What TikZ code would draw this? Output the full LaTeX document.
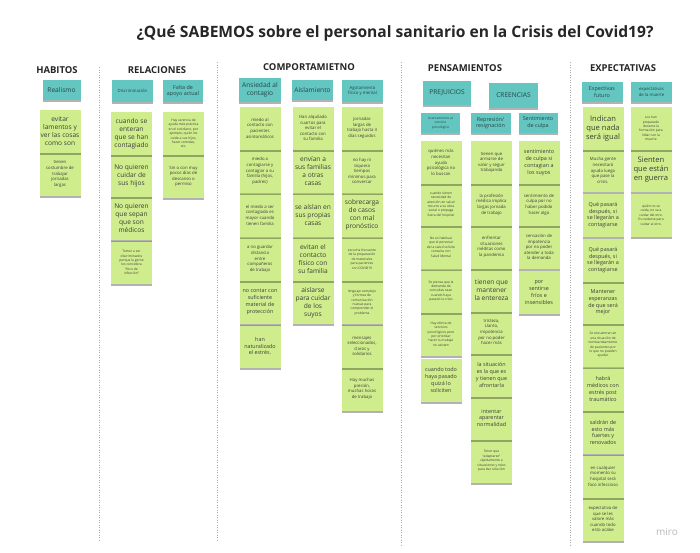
\documentclass[tikz,border=0pt]{standalone}
\usepackage{fontspec}
\setmainfont{Open Sans}
\usetikzlibrary{shadows}
\definecolor{stickygreen}{RGB}{208,237,142}
\definecolor{stickyteal}{RGB}{99,198,192}
\definecolor{notetext}{RGB}{60,60,55}
\definecolor{hdrtext}{RGB}{40,70,70}
\tikzset{
  shd/.style={drop shadow={shadow xshift=0pt,shadow yshift=-2pt,opacity=.3,fill=black}},
  note/.style={shd,fill=stickygreen,minimum width=41pt,minimum height=43pt,inner sep=0.5pt,align=center,text=notetext},
  hdr/.style={shd,fill=stickyteal,minimum width=40pt,minimum height=20pt,inner sep=0.5pt,align=center,text=hdrtext},
  fX/.style={font=\fontsize{7.6}{9}\selectfont},
  fA/.style={font=\fontsize{6.6}{8}\selectfont},
  fB/.style={font=\fontsize{5.4}{6.8}\selectfont},
  fC/.style={font=\fontsize{4.3}{5.6}\selectfont},
  fD/.style={font=\fontsize{3.3}{4.4}\selectfont},
  sect/.style={font=\fontsize{9.5}{11}\selectfont\bfseries,text=black!85},
  titlestyle/.style={font=\fontsize{15.6}{18}\selectfont\bfseries,text=black!85},
  sep/.style={draw=gray!65,line width=0.7pt,dash pattern=on 1.2pt off 1.3pt},
}
\begin{document}
\begin{tikzpicture}[x=1pt,y=-1pt]
\useasboundingbox[fill=white] (0,0) rectangle (700,552);

\node[titlestyle] (title) at (395,33) {¿Qué SABEMOS sobre el personal sanitario en la Crisis del Covid19?};

% separators
\coordinate (s1t) at (99,67);  \coordinate (s1b) at (99,540);
\coordinate (s2t) at (217,62); \coordinate (s2b) at (217,540);
\coordinate (s3t) at (401,62); \coordinate (s3b) at (401,545);
\coordinate (s4t) at (570,62); \coordinate (s4b) at (570,545);
\draw[sep] (s1t) -- (s1b);
\draw[sep] (s2t) -- (s2b);
\draw[sep] (s3t) -- (s3b);
\draw[sep] (s4t) -- (s4b);

% section headings
\node[sect] (habitos) at (57,70) {HABITOS};
\node[sect] (relaciones) at (157,70) {RELACIONES};
\node[sect] (comport) at (309,67) {COMPORTAMIETNO};
\node[sect] (pensam) at (465,68) {PENSAMIENTOS};
\node[sect] (expect) at (623,68) {EXPECTATIVAS};

% ---------------- HABITOS
\node[hdr,fA,minimum width=38pt] (realismo) at (61.5,90) {Realismo};
\node[note,fC] (ha2) at (60,174) {tienen\\costumbre de\\trabajar\\jornadas\\largas};
\node[note,fA] (ha1) at (60,131) {evitar\\lamentos y\\ver las cosas\\como son};

% ---------------- RELACIONES
\node[hdr,fC,minimum width=41pt,minimum height=22pt] (discrim) at (132.5,91) {Discriminación};
\node[hdr,fB,minimum height=22pt] (falta) at (183,91) {Falta de\\apoyo actual};
\node[note,fD] (re4) at (131.5,262.5) {Temor a ser\\discriminados\\porque la gente\\los considera\\``foco de\\infección''};
\node[note,fA] (re3) at (131.5,218.5) {No quieren\\que sepan\\que son\\médicos};
\node[note,fA] (re2) at (131.5,175.5) {No quieren\\cuidar de\\sus hijos};
\node[note,fA] (re1) at (131.5,133.5) {cuando se\\enteran\\que se han\\contagiado};
\node[note,fC] (rf2) at (183.5,176.5) {Sin o con muy\\pocos días de\\descanso o\\permiso};
\node[note,fD] (rf1) at (183.5,133.5) {Hay carencia de\\ayuda más práctica\\en el cotidiano, por\\ejemplo, quién les\\cuide a sus hijos,\\hacer comidas,\\etc.};

% ---------------- COMPORTAMIENTO
\node[hdr,fA,minimum width=42pt,minimum height=24pt] (ansiedad) at (260,90) {Ansiedad al\\contagio};
\node[hdr,fA,minimum width=41pt] (aisla) at (312.5,90) {Aislamiento};
\node[hdr,fC,minimum width=41pt,minimum height=22pt] (agota) at (362.5,91) {Agotamiento\\físico y mental};

\node[note,fB] (ca6) at (260,346) {han\\naturalizado\\el estrés.};
\node[note,fB] (ca5) at (260,302) {no contar con\\suficiente\\material de\\protección};
\node[note,fC] (ca4) at (260,259) {a no guardar\\distancia\\entre\\compañeros\\de trabajo};
\node[note,fC] (ca3) at (260,215) {el miedo a ser\\contagiado es\\mayor cuando\\tienen familia};
\node[note,fC] (ca2) at (260,171) {miedo a\\contagiarse y\\contagiar a su\\familia (hijos,\\padres)};
\node[note,fC] (ca1) at (260,128) {miedo al\\contacto con\\pacientes\\asintomáticos};

\node[note,fA] (cb5) at (313,302.5) {aislarse\\para cuidar\\de los\\suyos};
\node[note,fA] (cb4) at (313,259) {evitan el\\contacto\\físico con\\su familia};
\node[note,fA] (cb3) at (313,215) {se aíslan en\\sus propias\\casas};
\node[note,fA] (cb2) at (313,171) {envían a\\sus familias\\a otras\\casas};
\node[note,fC] (cb1) at (313,128) {Han alquilado\\cuartos para\\evitar el\\contacto con\\su familia};

\node[note,fC] (cc7) at (362,389) {Hay muchas\\presión,\\muchas horas\\de trabajo};
\node[note,fC] (cc6) at (362,346) {mensajes\\seleccionados,\\claros y\\solidarios};
\node[note,fD] (cc5) at (362,302.5) {lenguaje complejo\\y formas de\\comunicación\\nuevas para\\comprender el\\problema};
\node[note,fD] (cc4) at (362,259) {escucha frecuente\\de la preparación\\de materiales\\para pacientes\\con COVID19};
\node[note,fA] (cc3) at (362,215) {sobrecarga\\de casos\\con mal\\pronóstico};
\node[note,fC] (cc2) at (362,171) {no hay ni\\siquiera\\tiempos\\mínimos para\\conversar};
\node[note,fC] (cc1) at (362,128) {jornadas\\largas de\\trabajo hasta 3\\días seguidos};

% ---------------- PENSAMIENTOS
\node[hdr,fA,minimum width=48pt,minimum height=24pt] (prejuicios) at (447,93) {PREJUICIOS};
\node[hdr,fA,minimum width=49pt,minimum height=25pt] (creencias) at (513.5,95.5) {CREENCIAS};
\node[hdr,fD,minimum width=39pt] (acerca) at (440.5,123) {Acercamiento al\\servicio\\psicológico};
\node[hdr,fB,minimum width=40pt] (repres) at (490.5,123) {Represión/\\resignación};
\node[hdr,fB,minimum width=39pt] (sentim) at (538,123) {Sentimiento\\de culpa};

\node[note,fB] (pa6) at (441,380) {cuando todo\\haya pasado\\quizá lo\\soliciten};
\node[note,fD] (pa5) at (441,334) {Hay oferta de\\servicios\\psicológicos pero\\por priorizar\\hacer su trabajo\\no asisten};
\node[note,fD] (pa4) at (441,291) {Se piensa que la\\demanda de\\consultas sean\\cuando haya\\pasado la crisis};
\node[note,fD] (pa3) at (441,247) {No es habitual\\que el personal\\de la salud solicite\\consulta con\\Salud Mental};
\node[note,fD] (pa2) at (441,204.5) {cuando tienen\\necesidad de\\atención en salud\\recurre a su obra\\social o prepaga\\fuera del hospital};
\node[note,fC] (pa1) at (441,162.5) {quiénes más\\necesitan\\ayuda\\psicológica no\\lo buscan};

\node[note,fD] (pb8) at (491.5,461) {Tener que\\``adaptarse''\\rápidamente a\\situaciones y roles\\para dar solución};
\node[note,fB] (pb7) at (491.5,418) {intentar\\aparentar\\normalidad};
\node[note,fB] (pb6) at (491.5,375) {la situación\\es la que es\\y tienen que\\afrontarla};
\node[note,fC] (pb5) at (491.5,332) {tristeza,\\Llanto,\\impotencia\\por no poder\\hacer más};
\node[note,fA] (pb4) at (491.5,290) {tienen que\\mantener\\la entereza};
\node[note,fC] (pb3) at (491.5,247) {enfrentar\\situaciones\\inéditas como\\la pandemia};
\node[note,fC] (pb2) at (491.5,204.5) {la profesión\\médica implica\\largas jornada\\de trabajo};
\node[note,fC] (pb1) at (491.5,162.5) {tienen que\\armarse de\\valor y seguir\\trabajando};

\node[note,fB] (pc4) at (539,292.5) {por\\sentirse\\fríos e\\insensibles};
\node[note,fC] (pc3) at (539,247) {sensación de\\impotencia\\por no poder\\atender a toda\\la demanda};
\node[note,fC] (pc2) at (539,204.5) {sentimiento de\\culpa por no\\haber podido\\hacer algo};
\node[note,fB] (pc1) at (539,162.5) {sentimiento\\de culpa si\\contagian a\\los suyos};

% ---------------- EXPECTATIVAS
\node[hdr,fB,minimum width=41pt] (espfut) at (602,92) {Espectivas\\futuro};
\node[hdr,fC,minimum width=41pt] (espmue) at (651.5,92) {expectativas\\de la muerte};

\node[note,fC] (ea10) at (603,519) {expectativa de\\que se les\\valore más\\cuando todo\\esto acabe};
\node[note,fC] (ea9) at (603,476) {en cualquier\\momento su\\hospital será\\foco infeccioso};
\node[note,fB] (ea8) at (603,432.5) {saldrán de\\esto más\\fuertes y\\renovados};
\node[note,fB] (ea7) at (603,389) {habrá\\médicos con\\estrés post\\traumático};
\node[note,fD] (ea6) at (603,345) {Se encuentran en\\una situación de\\bombardeamiento\\de pacientes por\\lo que no pueden\\ayudar};
\node[note,fB] (ea5) at (603,302.5) {Mantener\\esperanzas\\de que será\\mejor};
\node[note,fB] (ea4) at (603,260) {Qué pasará\\después, si\\se llegarán a\\contagiarse};
\node[note,fB] (ea3) at (603,215) {Qué pasará\\después, si\\se llegarán a\\contagiarse};
\node[note,fC] (ea2) at (603,170.5) {Mucha gente\\necesitará\\ayuda luego\\que pase la\\crisis.};
\node[note,fX] (ea1) at (603,128.5) {Indican\\que nada\\será igual};

\node[note,fD] (eb3) at (651,215) {quién no se\\cuida, no va a\\cuidar del otro.\\Es cuidarse para\\cuidar al otro.};
\node[note,fX] (eb2) at (651,170) {Sienten\\que están\\en guerra};
\node[note,fD] (eb1) at (651,128.5) {Los han\\preparado\\durante la\\formación para\\lidiar con la\\muerte};

\node[font=\fontsize{10}{12}\selectfont,text=gray!55] (miro) at (667,532) {miro};
\end{tikzpicture}
\end{document}
